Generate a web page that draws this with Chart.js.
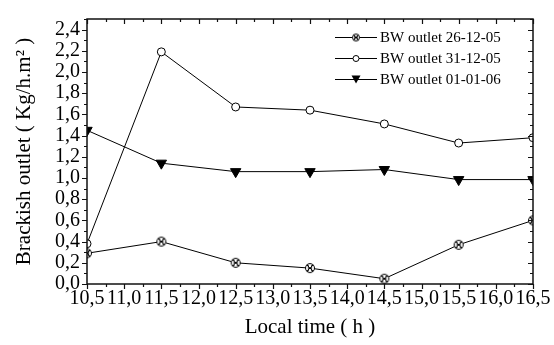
<!DOCTYPE html>
<html>
<head>
<meta charset="utf-8">
<script src="https://cdn.jsdelivr.net/npm/chart.js@4.4.1/dist/chart.umd.min.js"></script>
<style>
  html, body { margin: 0; padding: 0; background: #fff; }
  #wrap { width: 554px; height: 345px; position: relative; }
</style>
</head>
<body>
<div id="wrap"><canvas id="c"></canvas></div>
<script>
// ---- data ----
const localTime = [10.5, 11.5, 12.5, 13.5, 14.5, 15.5, 16.5];
const seriesNames = ['BW outlet 26-12-05', 'BW outlet 31-12-05', 'BW outlet 01-01-06'];
const bw261205 = [0.29, 0.40, 0.20, 0.15, 0.05, 0.37, 0.60];
const bw311205 = [0.38, 2.19, 1.67, 1.64, 1.51, 1.33, 1.38];
const bw010106 = [1.45, 1.14, 1.06, 1.06, 1.08, 0.985, 0.985];
const xTickValues = [10.5, 11.0, 11.5, 12.0, 12.5, 13.0, 13.5, 14.0, 14.5, 15.0, 15.5, 16.0, 16.5];
const yTickValues = [0.0, 0.2, 0.4, 0.6, 0.8, 1.0, 1.2, 1.4, 1.6, 1.8, 2.0, 2.2, 2.4];
const xTitle = 'Local time ( h )';
const yTitle = 'Brackish outlet ( Kg/h.m² )';

const FONT = "'Liberation Serif', 'Times New Roman', serif";
const fmt = v => v.toFixed(1).replace('.', ',');

function crossCircle(r) {
  const s = Math.ceil(2 * r + 3);
  const c = document.createElement('canvas');
  c.width = s; c.height = s;
  const g = c.getContext('2d');
  const m = s / 2;
  g.strokeStyle = '#000'; g.lineWidth = 1;
  g.fillStyle = '#fff';
  g.beginPath(); g.arc(m, m, r, 0, Math.PI * 2); g.fill(); g.stroke();
  const d = r * 0.72;
  g.beginPath();
  g.moveTo(m - d, m - d); g.lineTo(m + d, m + d);
  g.moveTo(m + d, m - d); g.lineTo(m - d, m + d);
  g.stroke();
  g.lineWidth = 0.8;
  g.beginPath();
  g.moveTo(m - d * 0.5, m - d); g.lineTo(m - d * 0.5, m + d);
  g.moveTo(m + d * 0.5, m - d); g.lineTo(m + d * 0.5, m + d);
  g.stroke();
  return c;
}
const crossImg = crossCircle(4.5);
const crossImgSmall = crossCircle(3.5);

const toXY = arr => arr.map((v, i) => ({ x: localTime[i], y: v }));

const framePlugin = {
  id: 'frame',
  afterDraw(chart) {
    const { ctx, chartArea: { left, right, top, bottom }, scales: { x, y } } = chart;
    ctx.save();
    ctx.strokeStyle = '#111';
    ctx.lineWidth = 1.5;
    ctx.strokeRect(left, top, right - left, bottom - top);
    ctx.lineWidth = 1.2;
    ctx.beginPath();
    for (let k = 0; k <= 24; k++) {
      const v = x.min + k * 0.25;
      const px = Math.round(x.getPixelForValue(v)) + 0.5;
      const len = (k % 2 === 0) ? 5 : 3;
      ctx.moveTo(px, bottom); ctx.lineTo(px, bottom + len);
      ctx.moveTo(px, top); ctx.lineTo(px, top + len);
    }
    for (let k = 0; k <= 25; k++) {
      const v = k * 0.1;
      const py = Math.round(y.getPixelForValue(v)) + 0.5;
      const len = (k % 2 === 0) ? 5 : 3;
      ctx.moveTo(left, py); ctx.lineTo(left - len, py);
      ctx.moveTo(right, py); ctx.lineTo(right - len, py);
    }
    ctx.stroke();

    // legend
    const rows = [37, 58, 79];
    ctx.font = '15px ' + FONT;
    ctx.textBaseline = 'middle';
    ctx.textAlign = 'left';
    rows.forEach((ry, i) => {
      ctx.strokeStyle = '#000';
      ctx.lineWidth = 1;
      ctx.beginPath();
      ctx.moveTo(335, ry + 0.5); ctx.lineTo(377, ry + 0.5);
      ctx.stroke();
      const mx = 356;
      if (i === 0) {
        ctx.fillStyle = '#fff';
        ctx.fillRect(mx - 4, ry - 4, 8, 8);
        ctx.drawImage(crossImgSmall, mx - crossImgSmall.width / 2, ry + 0.5 - crossImgSmall.height / 2);
      } else if (i === 1) {
        ctx.fillStyle = '#fff';
        ctx.beginPath(); ctx.arc(mx, ry + 0.5, 3, 0, Math.PI * 2); ctx.fill(); ctx.stroke();
      } else {
        ctx.fillStyle = '#000';
        ctx.beginPath();
        ctx.moveTo(mx - 4.5, ry - 3.5); ctx.lineTo(mx + 4.5, ry - 3.5); ctx.lineTo(mx, ry + 4.5);
        ctx.closePath(); ctx.fill();
      }
      ctx.fillStyle = '#000';
      ctx.fillText(seriesNames[i], 380, ry + 1);
    });
    ctx.restore();
  }
};

new Chart(document.getElementById('c'), {
  type: 'line',
  data: {
    datasets: [
      {
        label: seriesNames[0], data: toXY(bw261205),
        borderColor: '#000', borderWidth: 1, pointStyle: crossImg,
        pointRadius: 5, tension: 0
      },
      {
        label: seriesNames[1], data: toXY(bw311205),
        borderColor: '#000', borderWidth: 1, pointStyle: 'circle',
        pointRadius: 4, pointBackgroundColor: '#fff', pointBorderColor: '#000',
        pointBorderWidth: 1, tension: 0
      },
      {
        label: seriesNames[2], data: toXY(bw010106),
        borderColor: '#000', borderWidth: 1, pointStyle: 'triangle', rotation: 180,
        pointRadius: 6, pointBackgroundColor: '#000', pointBorderColor: '#000',
        pointBorderWidth: 1, tension: 0
      }
    ]
  },
  options: {
    responsive: true,
    maintainAspectRatio: false,
    animation: false,
    layout: { padding: { top: 12, right: 21, left: 0, bottom: 0 } },
    plugins: { legend: { display: false }, tooltip: { enabled: false } },
    scales: {
      x: {
        type: 'linear', min: 10.5, max: 16.5,
        grid: { display: false, drawTicks: false },
        border: { display: false },
        afterBuildTicks: s => { s.ticks = xTickValues.map(v => ({ value: v })); },
        afterFit: s => { s.height = 61; },
        ticks: {
          autoSkip: false, maxRotation: 0, padding: 3, color: '#000',
          font: { family: FONT, size: 20 },
          callback: v => fmt(v)
        },
        title: {
          display: true, text: xTitle, color: '#000',
          font: { family: FONT, size: 21 },
          padding: { top: 0, bottom: 5 }
        }
      },
      y: {
        type: 'linear', min: 0, max: 2.5,
        grid: { display: false, drawTicks: false },
        border: { display: false },
        afterBuildTicks: s => { s.ticks = yTickValues.map(v => ({ value: v })); },
        afterFit: s => { s.width = 87; },
        ticks: {
          autoSkip: false, padding: 7, color: '#000',
          font: { family: FONT, size: 20 },
          callback: v => fmt(v)
        },
        title: {
          display: true, text: yTitle, color: '#000',
          font: { family: FONT, size: 21 },
          padding: { top: 12, bottom: 0 }
        }
      }
    }
  },
  plugins: [framePlugin]
});
</script>
</body>
</html>
